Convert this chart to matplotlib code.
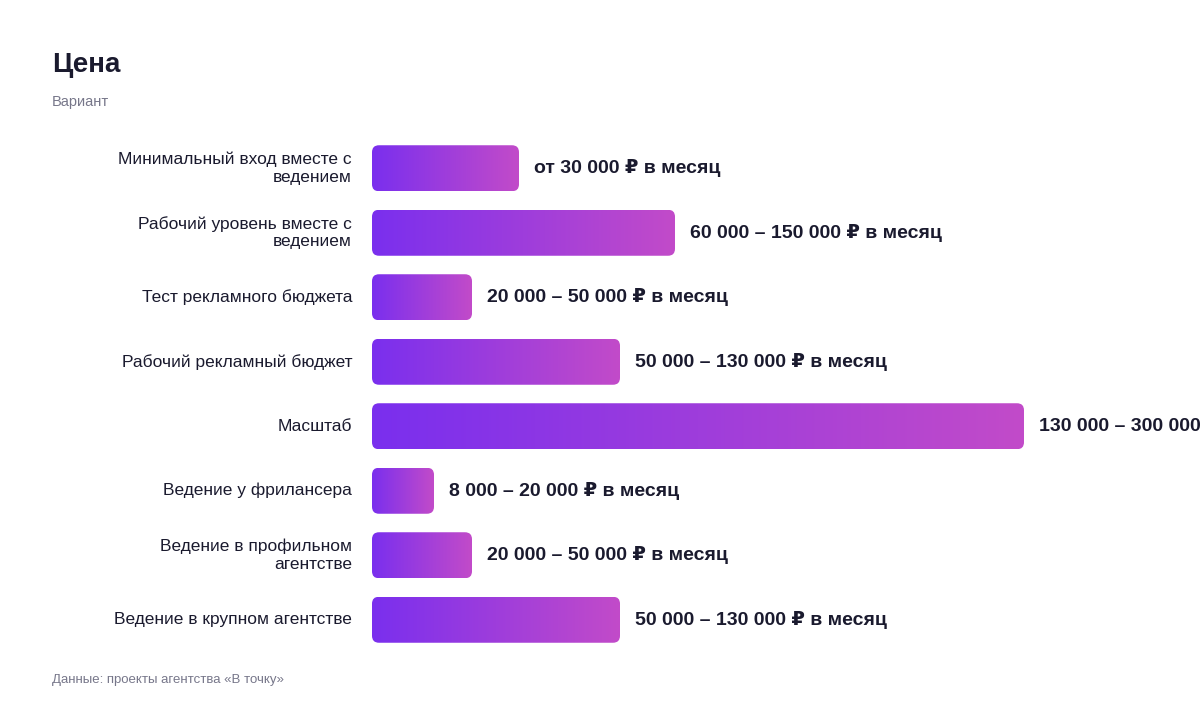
import matplotlib
matplotlib.use("Agg")
import matplotlib.pyplot as plt
import numpy as np
from matplotlib.patches import FancyBboxPatch
from matplotlib.colors import LinearSegmentedColormap

plt.rcParams['font.family'] = ['Liberation Sans', 'DejaVu Sans']

categories = ["Минимальный вход вместе с\nведением", "Рабочий уровень вместе с\nведением",
              "Тест рекламного бюджета", "Рабочий рекламный бюджет", "Масштаб",
              "Ведение у фрилансера", "Ведение в профильном\nагентстве", "Ведение в крупном агентстве"]
bar_values = [147, 303, 100, 248, 652, 62, 100, 248]
value_labels = ["от 30 000 ₽ в месяц", "60 000 – 150 000 ₽ в месяц", "20 000 – 50 000 ₽ в месяц",
                "50 000 – 130 000 ₽ в месяц", "130 000 – 300 000 ₽ в месяц", "8 000 – 20 000 ₽ в месяц",
                "20 000 – 50 000 ₽ в месяц", "50 000 – 130 000 ₽ в месяц"]

W, H = 1200, 712
fig = plt.figure(figsize=(12, 7.12), dpi=100)
ax = fig.add_axes([372/W, 1-652/H, 652/W, 516/H])
n = len(categories)
ax.axis('off')

cmap = LinearSegmentedColormap.from_list('g', ['#7A2FEE', '#C24BC9'])
grad = np.linspace(0, 1, 256).reshape(1, -1)
bh = 46/64.5
for i, (v, lab, cat) in enumerate(zip(bar_values, value_labels, categories)):
    patch = FancyBboxPatch((0, i - bh/2), v, bh, boxstyle="round,pad=0,rounding_size=7",
                           mutation_aspect=1/64.5, facecolor='none', edgecolor='none')
    ax.add_patch(patch)
    im = ax.imshow(grad, extent=(0, v, i + bh/2, i - bh/2), aspect='auto', cmap=cmap)
    im.set_clip_path(patch)
    ax.text(v + 15, i, lab, va='center', ha='left', fontsize=14, fontweight='bold',
            color='#1a1a2e', clip_on=False)
    ax.text(-20, i, cat, va='center', ha='right', fontsize=12.5, color='#1a1a2e',
            linespacing=1.2, clip_on=False)
ax.set_xlim(0, 652)
ax.set_ylim(n - 0.5, -0.5)

fig.text(52/W, 1-65/H, "Цена", fontsize=20, fontweight='bold', color='#1a1a2e', va='center')
fig.text(52/W, 1-102/H, "Вариант", fontsize=10.5, color='#77778a', va='center')
fig.text(52/W, 1-680/H, "Данные: проекты агентства «В точку»", fontsize=9.5, color='#77778a', va='center')
fig.savefig("out.png", dpi=100, facecolor='white')
